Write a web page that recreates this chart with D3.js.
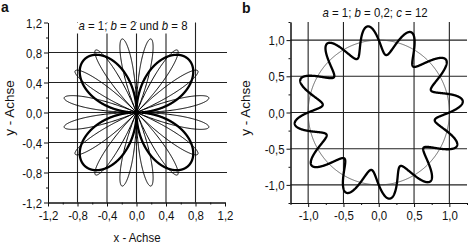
<!DOCTYPE html>
<html>
<head>
<meta charset="utf-8">
<script src="https://cdn.jsdelivr.net/npm/d3@7"></script>
<style>
  html, body { margin: 0; padding: 0; background: #fff; }
  svg { display: block; }
  text { font-family: "Liberation Sans", Arial, sans-serif; fill: #111; }
</style>
</head>
<body>
<div id="chart"></div>
<script>
const roseA = 1;
const roseB = [2, 8];          // b = 2 (dick), b = 8 (dünn)
const waveA = 1;
const waveB = 0.2;
const waveC = 12;

// Achsen
const ticksA = [-1.2, -0.8, -0.4, 0.0, 0.4, 0.8, 1.2];
const gridA = [-0.8, -0.4, 0.0, 0.4, 0.8];
const ticksB = [-1.0, -0.5, 0.0, 0.5, 1.0];

const W = 468, H = 244;
const NARROW = 0.88;   // schmale Schrift nachbilden

const svg = d3.select("#chart").append("svg")
  .attr("width", W).attr("height", H)
  .attr("viewBox", `0 0 ${W} ${H}`);

const locale = d3.formatLocale({ decimal: ",", thousands: ".", grouping: [3], currency: ["", ""], minus: "-" });
const fmt = locale.format(".1f");

// Text horizontal stauchen (Position bleibt gleich)
function narrow(sel, x, y) {
  sel.attr("x", x / NARROW).attr("y", y).attr("transform", `scale(${NARROW},1)`);
  return sel;
}

// Panel zeichnen
function drawPanel(opt) {
  const x = d3.scaleLinear().domain(opt.domain).range([opt.left, opt.right]);
  const y = d3.scaleLinear().domain(opt.domain).range([opt.bottom, opt.top]);
  const g = svg.append("g");

  // Gitter
  g.selectAll(".vg").data(opt.grid).join("line")
    .attr("x1", d => x(d)).attr("x2", d => x(d))
    .attr("y1", opt.top).attr("y2", opt.bottom)
    .attr("stroke", "#222").attr("stroke-width", 1.1);
  g.selectAll(".hg").data(opt.grid).join("line")
    .attr("y1", d => y(d)).attr("y2", d => y(d))
    .attr("x1", opt.left).attr("x2", opt.gridRight)
    .attr("stroke", "#222").attr("stroke-width", 1.1);

  // Achsen
  const xAxis = d3.axisBottom(x).tickValues(opt.ticks).tickFormat(fmt).tickSize(4).tickSizeOuter(0);
  const yAxis = d3.axisLeft(y).tickValues(opt.ticks).tickFormat(fmt).tickSize(4).tickSizeOuter(0);
  const xMinor = d3.axisBottom(x).tickValues(opt.minor).tickFormat("").tickSize(2).tickSizeOuter(0);
  const yMinor = d3.axisLeft(y).tickValues(opt.minor).tickFormat("").tickSize(2).tickSizeOuter(0);

  const styleAxis = a => {
    a.selectAll("path, line").attr("stroke", "#111").attr("stroke-width", 1);
    a.selectAll("text").style("font-size", "13px").attr("fill", "#111");
  };
  const gx = g.append("g").attr("transform", `translate(0,${opt.bottom})`).call(xAxis).call(styleAxis);
  g.append("g").attr("transform", `translate(0,${opt.bottom})`).call(xMinor).call(styleAxis);
  const gy = g.append("g").attr("transform", `translate(${opt.left},0)`).call(yAxis).call(styleAxis);
  g.append("g").attr("transform", `translate(${opt.left},0)`).call(yMinor).call(styleAxis);

  gx.selectAll("text").each(function () { narrow(d3.select(this), 0, 5).attr("dy", "0.95em"); });
  gy.selectAll("text").each(function () { narrow(d3.select(this), -6, 0).attr("dy", "0.36em"); });

  return { g, x, y };
}

// Titel mit kursiven Variablen
function title(g, cx, cy, parts) {
  const t = g.append("text").attr("text-anchor", "middle").style("font-size", "13px");
  parts.forEach(([s, it]) => t.append("tspan").attr("font-style", it ? "italic" : null).text(s));
  narrow(t, cx, cy);
  return t;
}

// Panel a
const pa = drawPanel({
  domain: [-1.2, 1.2], left: 48, right: 225, gridRight: 227, top: 22.5, bottom: 202.5,
  ticks: ticksA, grid: gridA, minor: [-1.0, -0.6, -0.2, 0.2, 0.6, 1.0]
});

const lineA = d3.line().x(d => pa.x(d[0])).y(d => pa.y(d[1]));
roseB.forEach((b, i) => {
  const pts = d3.range(0, 2 * Math.PI + 0.0005, Math.PI / 1440).map(phi => {
    const r = roseA * Math.sin(b * phi);
    return [r * Math.cos(phi), r * Math.sin(phi)];
  });
  pa.g.append("path").attr("d", lineA(pts)).attr("fill", "none")
    .attr("stroke", "#000").attr("stroke-width", i === 0 ? 2.3 : 1)
    .attr("stroke-linejoin", "round");
});

// weißer Kasten hinter dem Titel
const bgA = pa.g.append("rect").attr("fill", "#fff");
const titleA = title(pa.g, 133, 30.5,
  [["a", true], [" = 1;  ", false], ["b", true], [" = 2 und ", false], ["b", true], [" = 8", false]]);
const bbA = titleA.node().getBBox();
bgA.attr("x", bbA.x * NARROW - 3).attr("y", 23).attr("width", bbA.width * NARROW + 6).attr("height", 10.5);

// Panel b
const pb = drawPanel({
  domain: [-1.25, 1.25], left: 290.5, right: 467, gridRight: 467, top: 22, bottom: 203,
  ticks: ticksB, grid: ticksB, minor: [-1.25, -0.75, -0.25, 0.25, 0.75, 1.25]
});

title(pb.g, 375, 17.5,
  [["a", true], [" = 1;  ", false], ["b", true], [" = 0,2;  ", false], ["c", true], [" = 12", false]]);

const lineB = d3.line().x(d => pb.x(d[0])).y(d => pb.y(d[1]));
const circlePts = d3.range(0, 2 * Math.PI + 0.001, Math.PI / 360).map(phi => [waveA * Math.cos(phi), waveA * Math.sin(phi)]);
pb.g.append("path").attr("d", lineB(circlePts)).attr("fill", "none")
  .attr("stroke", "#444").attr("stroke-width", 0.8);
const wavePts = d3.range(0, 2 * Math.PI + 0.001, Math.PI / 1440).map(phi => {
  const r = waveA + waveB * Math.sin(waveC * phi);
  return [r * Math.cos(phi), r * Math.sin(phi)];
});
pb.g.append("path").attr("d", lineB(wavePts)).attr("fill", "none")
  .attr("stroke", "#000").attr("stroke-width", 2.3).attr("stroke-linejoin", "round");

// Panel-Buchstaben und Achsentitel
svg.append("text").attr("x", 1).attr("y", 11.5).style("font-size", "14px").style("font-weight", "bold").text("a");
svg.append("text").attr("x", 242).attr("y", 12.5).style("font-size", "14px").style("font-weight", "bold").text("b");

narrow(svg.append("text").attr("text-anchor", "middle").style("font-size", "13px").text("x - Achse"), 137, 242);
[[13.5, 108], [250, 108]].forEach(([cx, cy]) => {
  svg.append("text").attr("transform", `translate(${cx},${cy}) rotate(-90)`)
    .attr("text-anchor", "middle").style("font-size", "13.5px").text("y - Achse");
});
</script>
</body>
</html>
